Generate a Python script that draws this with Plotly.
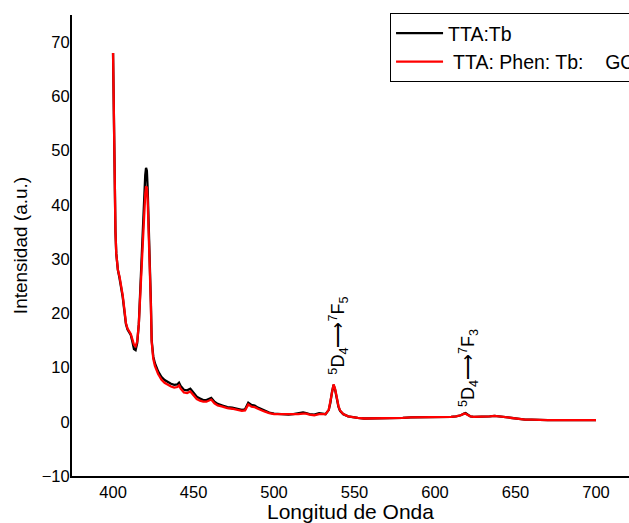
import plotly.graph_objects as go

wavelength = [400, 400.5, 401, 401.5, 402, 403, 404, 405, 406, 407, 408, 409, 410, 411, 412, 413, 414, 415,
              416, 417, 418, 419, 420, 420.5, 421, 421.5, 422, 423, 423.5, 424, 424.5, 425, 426, 427, 428, 429,
              430, 432, 434, 436, 438, 440, 441, 442, 444, 446, 448, 450, 452, 454, 456, 458, 460, 461, 463,
              465, 468, 471, 474, 477, 480, 482, 484, 486, 488, 490, 492, 494, 497, 500, 503, 506, 509, 512,
              515, 518, 520, 522, 525, 528, 530, 532, 534, 535, 536, 537, 538, 539, 540, 541, 543, 546, 549,
              552, 556, 560, 565, 570, 575, 580, 585, 590, 595, 600, 605, 610, 613, 616, 618, 619, 620, 622,
              624, 627, 630, 634, 637, 640, 644, 648, 652, 656, 660, 665, 670, 675, 680, 685, 690, 695, 700]

tta_tb = [68.0, 55, 42, 35, 31, 28, 26.5, 25, 23, 20.5, 18, 17, 16.5, 16, 14.8, 13.4, 13.2, 14.5,
          18, 25, 33, 41, 45.5, 46.8, 46.3, 43, 38, 30, 22, 15, 13, 12, 10.8, 10, 9.3, 8.8,
          8.3, 7.7, 7.3, 7.0, 6.8, 6.9, 7.2, 6.6, 5.9, 5.8, 6.1, 5.3, 4.6, 4.3, 4.0, 4.0, 4.3, 4.4, 3.7,
          3.3, 3.0, 2.7, 2.6, 2.4, 2.2, 2.3, 3.5, 3.1, 3.0, 2.6, 2.3, 2.0, 1.7, 1.5, 1.4, 1.4, 1.3, 1.4,
          1.5, 1.7, 1.6, 1.4, 1.3, 1.6, 1.5, 1.4, 2.2, 3.5, 5.5, 6.8, 5.8, 4.2, 2.8, 2.0, 1.4, 1.0, 0.8,
          0.7, 0.6, 0.6, 0.6, 0.7, 0.7, 0.7, 0.8, 0.8, 0.8, 0.8, 0.9, 0.9, 1.0, 1.2, 1.5, 1.6, 1.4, 1.0,
          0.9, 0.9, 1.0, 1.0, 1.1, 1.0, 0.8, 0.6, 0.5, 0.4, 0.4, 0.3, 0.3, 0.3, 0.3, 0.3, 0.3, 0.3, 0.3]

tta_phen_tb_go = [68.0, 55, 42, 35, 31, 28, 26.8, 25.3, 23.3, 20.8, 18.2, 17.2, 16.7, 16.2, 15.2, 14.2, 13.9, 14.8,
                  18, 24.5, 32, 38.5, 42, 43.4, 43.2, 41, 36.5, 29, 21.5, 14.7, 12.7, 11.6, 10.3, 9.5, 8.8, 8.3,
                  7.8, 7.2, 6.8, 6.5, 6.3, 6.4, 6.7, 6.1, 5.4, 5.3, 5.6, 4.8, 4.2, 3.9, 3.7, 3.7, 4.0, 4.1, 3.4,
                  3.0, 2.8, 2.5, 2.4, 2.2, 2.0, 2.1, 3.2, 2.8, 2.7, 2.4, 2.1, 1.9, 1.6, 1.4, 1.4, 1.4, 1.3, 1.3,
                  1.4, 1.5, 1.5, 1.3, 1.2, 1.4, 1.4, 1.4, 2.2, 3.6, 5.6, 6.9, 6.0, 4.4, 2.9, 2.1, 1.4, 1.0, 0.8,
                  0.7, 0.6, 0.6, 0.6, 0.7, 0.7, 0.7, 0.8, 0.8, 0.8, 0.8, 0.9, 0.9, 1.0, 1.2, 1.5, 1.5, 1.3, 1.0,
                  0.9, 0.9, 1.0, 1.0, 1.1, 1.0, 0.8, 0.6, 0.5, 0.4, 0.4, 0.3, 0.3, 0.3, 0.3, 0.3, 0.3, 0.3, 0.3]

series_names = ["TTA:Tb", " TTA: Phen: Tb:\u00a0\u00a0\u00a0\u00a0GO"]
series_colors = ["#000000", "#ff0000"]

x_ticks = [400, 450, 500, 550, 600, 650, 700]
y_ticks = [-10, 0, 10, 20, 30, 40, 50, 60, 70]

labels = [
    {"x": 539.8, "y": 15.9, "text": "<sup>5</sup>D<sub>4</sub>⟶<sup>7</sup>F<sub>5</sub>"},
    {"x": 620.5, "y": 9.9, "text": "<sup>5</sup>D<sub>4</sub>⟶<sup>7</sup>F<sub>3</sub>"},
]

FONT = "Arial, 'Liberation Sans', sans-serif"

fig = go.Figure()
for name, ys, col in zip(series_names, [tta_tb, tta_phen_tb_go], series_colors):
    fig.add_trace(go.Scatter(x=wavelength, y=ys, mode="lines", name=name,
                             line=dict(color=col, width=2.3)))

for lab in labels:
    fig.add_annotation(x=lab["x"], y=lab["y"], text=lab["text"], showarrow=False,
                       textangle=-90, font=dict(family=FONT, size=18, color="black"))

fig.update_layout(
    width=629, height=523,
    margin=dict(l=72, r=0, t=15, b=47, autoexpand=False),
    paper_bgcolor="white", plot_bgcolor="white",
    font=dict(family=FONT, color="black"),
    showlegend=True,
    legend=dict(x=0.571, y=1.0043, xanchor="left", yanchor="top",
                bordercolor="black", borderwidth=1, bgcolor="white",
                font=dict(family=FONT, size=19.5, color="black"),
                itemwidth=47, tracegroupgap=0),
    xaxis=dict(range=[374.5, 720.5], tickvals=x_ticks, ticks="", showgrid=False, zeroline=False,
               showline=True, linecolor="black", linewidth=2,
               tickfont=dict(family=FONT, size=16.5, color="black"),
               title=dict(text="Longitud de Onda", font=dict(family=FONT, size=21, color="black"), standoff=4)),
    yaxis=dict(range=[-10, 75], tickvals=y_ticks, ticks="", showgrid=False, zeroline=False,
               showline=True, linecolor="black", linewidth=2, ticklabelstandoff=-3,
               tickfont=dict(family=FONT, size=16.5, color="black"),
               title=dict(text="Intensidad (a.u.)", font=dict(family=FONT, size=19, color="black"), standoff=9)),
)

fig.write_html("out.html", config={"displayModeBar": False},
               post_script="document.body.style.margin='0';document.body.style.overflow='hidden';")
